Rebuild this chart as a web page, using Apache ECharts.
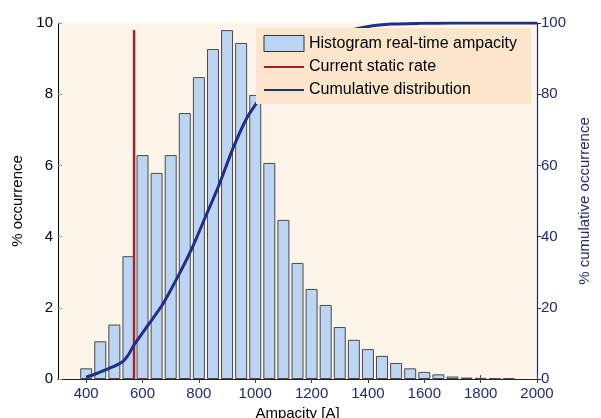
<!DOCTYPE html>
<html>
<head>
<meta charset="utf-8">
<script src="https://cdn.jsdelivr.net/npm/echarts@6/dist/echarts.min.js"></script>
<style>
  html, body { margin: 0; padding: 0; background: #ffffff; }
  #chart { width: 601px; height: 418px; }
</style>
</head>
<body>
<div id="chart"></div>
<script>
// Histogram bin centres (A), 50 A wide
var binCenters = [400, 450, 500, 550, 600, 650, 700, 750, 800, 850, 900, 950, 1000, 1050,
  1100, 1150, 1200, 1250, 1300, 1350, 1400, 1450, 1500, 1550, 1600, 1650, 1700, 1750,
  1800, 1850, 1900];
// % occurrence per bin
var occurrence = [0.30, 1.06, 1.53, 3.45, 6.29, 5.79, 6.29, 7.47, 8.48, 9.27, 9.80, 9.44, 7.98, 6.07,
  4.47, 3.26, 2.53, 2.08, 1.46, 1.10, 0.84, 0.65, 0.45, 0.30, 0.20, 0.13, 0.07, 0.04,
  0.03, 0.02, 0.02];
// Cumulative distribution (A, %)
var cumAmp = [400, 432, 485, 528, 549, 570, 620, 670, 723, 777, 823, 869, 922, 972, 1007,
  1050, 1100, 1150, 1200, 1250, 1300, 1350, 1391, 1480, 1587, 1700, 1800, 1900, 2000];
var cumPct = [0.5, 1.4, 3.1, 4.8, 6.7, 9.6, 15.2, 20.8, 28.4, 37.0, 45.5, 54.0, 65.0, 73.6, 77.8,
  83.0, 87.5, 91.0, 93.5, 95.5, 97.0, 98.2, 98.9, 99.7, 99.9, 100, 100, 100, 100];
// Current static rating
var staticRate = 570;
var staticTop = 9.8;
// Tick labels
var xTicks = [400, 600, 800, 1000, 1200, 1400, 1600, 1800, 2000];

var navy = '#1f2a6e';
var font = 'Liberation Sans, Arial, sans-serif';

var histData = binCenters.map(function (c, i) { return [c, occurrence[i]]; });
var cumData = cumAmp.map(function (a, i) { return [a, cumPct[i]]; });

var chart = echarts.init(document.getElementById('chart'), null, { renderer: 'canvas' });
chart.setOption({
  animation: false,
  backgroundColor: '#ffffff',
  textStyle: { fontFamily: font },
  grid: {
    left: 58, right: 64, top: 23, bottom: 39,
    outerBoundsMode: 'none',
    containLabel: false,
    show: true, backgroundColor: '#fdf5ea', borderWidth: 0
  },
  legend: {
    orient: 'vertical',
    left: 256, top: 28,
    z: 20,
    backgroundColor: '#fbe6cb',
    padding: [7, 14, 6, 7],
    itemWidth: 40, itemHeight: 16, itemGap: 7,
    textStyle: { fontSize: 16, color: '#000', fontFamily: font },
    data: [
      { name: 'Histogram real-time ampacity', icon: 'rect',
        itemStyle: { borderColor: '#333', borderWidth: 1 } },
      { name: 'Current static rate', itemStyle: { opacity: 0 } },
      { name: 'Cumulative distribution', itemStyle: { opacity: 0 } }
    ]
  },
  xAxis: [{
    type: 'value', min: 300, max: 2000, position: 'bottom',
    axisLine: { show: true, lineStyle: { color: '#3a4672', width: 1 } },
    axisTick: { show: true, inside: true, length: 4, customValues: xTicks, lineStyle: { color: '#2b4aa0' } },
    axisLabel: { customValues: xTicks, color: navy, fontSize: 15, margin: 7, fontFamily: font,
      formatter: function (v) { return String(v); } },
    splitLine: { show: false },
    name: 'Ampacity [A]', nameLocation: 'middle', nameGap: 27,
    nameTextStyle: { color: '#000', fontSize: 15, fontFamily: font }
  }, {
    type: 'value', min: 300, max: 2000, position: 'top',
    axisLine: { show: true, lineStyle: { color: '#222', width: 1 } },
    axisTick: { show: true, inside: true, length: 4, customValues: xTicks, lineStyle: { color: '#444' } },
    axisLabel: { show: false },
    splitLine: { show: false }
  }],
  yAxis: [{
    type: 'value', min: 0, max: 10, interval: 2, position: 'left',
    axisLine: { show: true, lineStyle: { color: '#000', width: 1 } },
    axisTick: { show: true, inside: true, length: 4, lineStyle: { color: '#999' } },
    axisLabel: { color: '#000', fontSize: 15, margin: 5, fontFamily: font },
    splitLine: { show: false },
    name: '% occurrence', nameLocation: 'middle', nameGap: 31,
    nameTextStyle: { color: '#000', fontSize: 15, fontFamily: font }
  }, {
    type: 'value', min: 0, max: 100, interval: 20, position: 'right',
    axisLine: { show: true, lineStyle: { color: navy, width: 1.2 } },
    axisTick: { show: true, inside: false, length: 4, lineStyle: { color: navy } },
    axisLabel: { color: navy, fontSize: 15, margin: 4, fontFamily: font },
    splitLine: { show: false },
    name: '% cumulative occurrence', nameLocation: 'middle', nameGap: 36,
    nameTextStyle: { color: navy, fontSize: 15, fontFamily: font }
  }],
  series: [{
    name: 'Histogram real-time ampacity',
    type: 'bar',
    xAxisIndex: 0, yAxisIndex: 0,
    barWidth: 12,
    data: histData,
    itemStyle: { color: '#bcd5f2', borderColor: '#4a4a4a', borderWidth: 1 },
    z: 2
  }, {
    name: 'Current static rate',
    type: 'line',
    xAxisIndex: 0, yAxisIndex: 0,
    symbol: 'none',
    data: [[staticRate, 0], [staticRate, staticTop]],
    lineStyle: { color: '#a3202e', width: 2.5 },
    itemStyle: { color: '#a3202e' },
    z: 3
  }, {
    name: 'Cumulative distribution',
    type: 'line',
    xAxisIndex: 0, yAxisIndex: 1,
    symbol: 'none',
    smooth: 0.2,
    data: cumData,
    lineStyle: { color: '#1c2f8c', width: 3 },
    itemStyle: { color: '#1c2f8c' },
    z: 3
  }]
});
</script>
</body>
</html>
